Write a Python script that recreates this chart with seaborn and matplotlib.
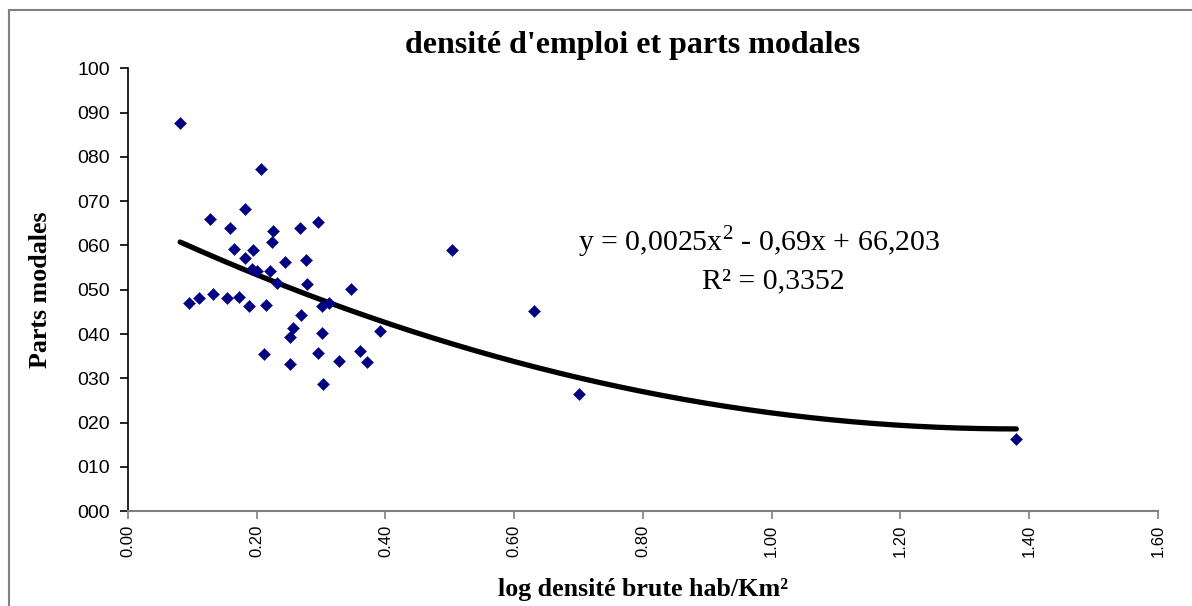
import numpy as np
import pandas as pd
import matplotlib
matplotlib.use("Agg")
import matplotlib.pyplot as plt
import seaborn as sns
from matplotlib.patches import Rectangle
from matplotlib.ticker import FuncFormatter

# --- data ---
log_densite = [0.081, 0.207, 0.182, 0.128, 0.159, 0.226, 0.267, 0.295, 0.223, 0.164,
               0.194, 0.181, 0.244, 0.277, 0.193, 0.200, 0.221, 0.231, 0.278, 0.347,
               0.094, 0.111, 0.132, 0.154, 0.172, 0.188, 0.215, 0.302, 0.312, 0.269,
               0.256, 0.252, 0.302, 0.391, 0.211, 0.295, 0.360, 0.327, 0.372, 0.252,
               0.303, 0.504, 0.630, 0.700, 1.380]
parts_modales = [87.6, 77.3, 68.2, 65.9, 64.0, 63.2, 64.0, 65.3, 60.7, 59.1,
                 59.0, 57.2, 56.3, 56.7, 54.6, 54.2, 54.2, 51.6, 51.3, 50.2,
                 47.1, 48.1, 49.0, 48.1, 48.4, 46.4, 46.5, 46.4, 47.0, 44.2,
                 41.4, 39.3, 40.3, 40.8, 35.5, 35.8, 36.1, 34.0, 33.7, 33.2,
                 28.7, 59.0, 45.3, 26.5, 16.3]

# polynomial trend shown on the chart (x expressed in hundredths)
trend_coefs = [0.0025, -0.69, 66.203]
r2 = 0.3352

df = pd.DataFrame({"x": log_densite, "y": parts_modales})

# trend line over the data range
xs = np.linspace(min(log_densite), max(log_densite), 200)
trend = pd.DataFrame({"x": xs, "y": np.polyval(trend_coefs, xs * 100)})

sns.set_style("white")
plt.rcParams["font.family"] = ["Liberation Sans", "DejaVu Sans"]
plt.rcParams["mathtext.fontset"] = "custom"
plt.rcParams["mathtext.rm"] = "Liberation Serif"
# plain black text like the original spreadsheet chart
for key in ["text.color", "axes.labelcolor", "xtick.color", "ytick.color"]:
    plt.rcParams[key] = "black"

fig = plt.figure(figsize=(11.92, 6.06), dpi=100)
ax = fig.add_axes([0.1074, 0.1563, 0.864, 0.731])

sns.lineplot(data=trend, x="x", y="y", ax=ax, color="black", linewidth=3.8,
             solid_capstyle="round", zorder=2)
sns.scatterplot(data=df, x="x", y="y", ax=ax, marker="D", color="#000080",
                s=38, edgecolor="#000080", linewidth=0.3, zorder=3)

ax.set_xlim(0, 1.6)
ax.set_ylim(0, 100)
ax.set_xticks(np.arange(0, 1.61, 0.2))
ax.set_yticks(np.arange(0, 101, 10))
ax.xaxis.set_major_formatter(FuncFormatter(lambda v, p: f"{v:.2f}"))
ax.yaxis.set_major_formatter(FuncFormatter(lambda v, p: f"{int(round(v)):03d}"))
ax.tick_params(axis="x", labelrotation=90, labelsize=12, length=6, width=1.2,
               color="#808080", labelcolor="black", direction="out", bottom=True)
ax.tick_params(axis="y", labelsize=14, length=6, width=1.2, color="black",
               labelcolor="black", direction="out", left=True, pad=7)

for s in ["top", "right"]:
    ax.spines[s].set_visible(False)
ax.spines["left"].set_color("black")
ax.spines["left"].set_linewidth(1.2)
ax.spines["bottom"].set_color("#808080")
ax.spines["bottom"].set_linewidth(1.5)

serif = ["Liberation Serif", "DejaVu Serif"]
ax.set_xlabel("log densité brute hab/Km²", fontsize=18.7, fontweight="bold",
              family=serif, labelpad=15, color="black")
ax.set_ylabel("Parts modales", fontsize=18.7, fontweight="bold", family=serif,
              labelpad=18, color="black")
fig.text(633 / 1192, 1 - 45 / 606, "densité d'emploi et parts modales",
         fontsize=23, fontweight="bold", family=serif, ha="center", va="center",
         color="black")

eq_line = (f"y = {trend_coefs[0]:.4f}x$^2$ - {abs(trend_coefs[1]):.2f}x + "
           f"{trend_coefs[2]:.3f}").replace(".", ",")
r2_line = f"R² = {r2:.4f}".replace(".", ",")
ax.text(0.980, 60.8, eq_line, fontsize=21.5, family=serif, ha="center",
        va="center", color="black")
ax.text(1.002, 51.8, r2_line, fontsize=21.5, family=serif, ha="center",
        va="center", color="black")

# outer chart frame
fig.patches.append(Rectangle((9 / 1192, -0.01), 1.2, 1 - 10 / 606 + 0.01,
                             transform=fig.transFigure, fill=False,
                             edgecolor="#808080", linewidth=1.5))

fig.savefig("out.png", dpi=100)
